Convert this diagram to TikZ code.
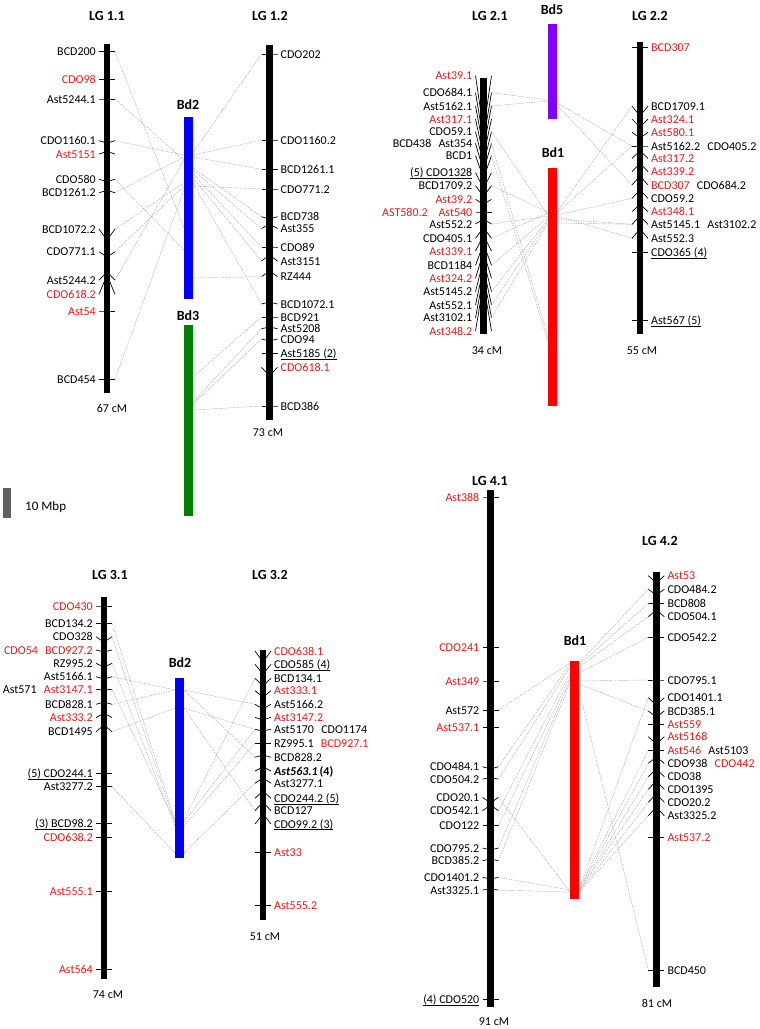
\documentclass[tikz,border=0pt]{standalone}
\usepackage{fontspec}
\setmainfont{Carlito}
\definecolor{mred}{RGB}{228,28,28}
\definecolor{bdblue}{RGB}{0,0,255}
\definecolor{bdgreen}{RGB}{0,128,0}
\definecolor{bdred}{RGB}{255,0,0}
\definecolor{bdpurple}{RGB}{128,0,255}
\definecolor{connc}{RGB}{165,165,165}
\definecolor{scalec}{RGB}{96,96,96}
\newcommand\R[1]{\textcolor{mred}{#1}}
\newcommand\myul[1]{{\setbox0\hbox{#1}\rlap{\rule[-1.7pt]{\wd0}{0.55pt}}\box0}}
\newcommand\gap{\hspace{0.6em}}
\tikzset{
 lbl/.style={inner sep=0pt, font=\fontsize{12}{13}\selectfont},
 ttl/.style={inner sep=0pt, font=\fontsize{14}{16}\selectfont\bfseries},
 tk/.style={line width=0.7pt, black},
 chrom/.style={line width=6.5pt, black},
 conn/.style={draw=connc, line width=0.4pt, dash pattern=on 1.5pt off 1pt},
}
% marker with label on the left, connector side on the right
\newcommand\mkl[5]{\draw[tk] (#2-8,#3) -- (#2,#4) -- (#2+8,#3);
 \coordinate (#1) at (#2+8,#3);
 \node[lbl,anchor=base east] (#1t) at (#2-11,#3+4.2) {#5};}
% marker with label on the right, connector side on the left
\newcommand\mkr[5]{\draw[tk] (#2+8,#3) -- (#2,#4) -- (#2-8,#3);
 \coordinate (#1) at (#2-8,#3);
 \node[lbl,anchor=base west] (#1t) at (#2+11,#3+4.2) {#5};}
\newcommand\link[4]{\coordinate (#2) at (#3,#4); \draw[conn] (#1) -- (#2);}
\begin{document}
\begin{tikzpicture}[x=1pt,y=-1pt]
\useasboundingbox (0,0) rectangle (760,1029);
\fill[white] (0,0) rectangle (760,1029);

% ================= LG 1 =================
\node[ttl] (t11) at (107,16) {LG 1.1};
\node[ttl] (t12) at (270,16) {LG 1.2};
\node[ttl] (tb2) at (188,105) {Bd2};
\node[ttl] (tb3) at (188,316) {Bd3};
\mkl{a1}{107}{51.7}{51.7}{BCD200}
\mkl{a2}{107}{79.3}{79.3}{\R{CDO98}}
\mkl{a3}{107}{99}{99}{Ast5244.1}
\mkl{a4}{107}{140.7}{143}{CDO1160.1}
\mkl{a5}{107}{154}{151.5}{\R{Ast5151}}
\mkl{a6}{107}{179.3}{181.5}{CDO580}
\mkl{a7}{107}{192.7}{190.5}{BCD1261.2}
\mkl{a8}{107}{229}{240}{BCD1072.2}
\mkl{a9}{107}{251.7}{257}{CDO771.1}
\mkl{a10}{107}{280}{272}{Ast5244.2}
\mkl{a11}{107}{294.3}{275}{\R{CDO618.2}}
\mkl{a12}{107}{311}{311}{\R{Ast54}}
\mkl{a13}{107}{379.3}{379.3}{BCD454}
\mkr{b1}{269.5}{54}{54}{CDO202}
\mkr{b2}{269.5}{140}{140}{CDO1160.2}
\mkr{b3}{269.5}{169.3}{169.3}{BCD1261.1}
\mkr{b4}{269.5}{189}{189}{CDO771.2}
\mkr{b5}{269.5}{216.7}{219}{BCD738}
\mkr{b6}{269.5}{228.5}{224}{Ast355}
\mkr{b7}{269.5}{247}{247}{CDO89}
\mkr{b8}{269.5}{261}{255}{Ast3151}
\mkr{b9}{269.5}{276.7}{271}{RZ444}
\mkr{b10}{269.5}{304}{302}{BCD1072.1}
\mkr{b11}{269.5}{317}{317}{BCD921}
\mkr{b12}{269.5}{328.7}{327}{Ast5208}
\mkr{b13}{269.5}{339}{341}{CDO94}
\mkr{b14}{269.5}{353.7}{353.7}{\myul{Ast5185 (2)}}
\mkr{b15}{269.5}{367.3}{376}{\R{CDO618.1}}
\mkr{b16}{269.5}{406}{406}{BCD386}
% connectors LG1
\link{a1}{q1}{184}{228}
\link{a3}{q3}{184}{160}
\link{a4}{q4}{184}{155}
\link{a6}{q6}{184}{250}
\link{a7}{q7}{184}{157}
\link{a8}{q8}{184}{183}
\link{a9}{q9}{184}{186}
\link{a10}{q10}{184}{160}
\link{a13}{q13}{184}{190}
\link{b1}{r1}{193}{153}
\link{b2}{r2}{193}{155}
\link{b3}{r3}{193}{157}
\link{b4}{r4}{193}{186}
\link{b5}{r5}{193}{168}
\link{b6}{r6}{193}{170}
\link{b7}{r7}{193}{174}
\link{b8}{r8}{193}{178}
\link{b9}{r9}{193}{278}
\link{b10}{r10}{193}{183}
\link{b11}{r11}{193}{377}
\link{b12}{r12}{193}{402}
\link{b13}{r13}{193}{404}
\link{b16}{r16}{193}{410}
\draw[chrom] (107,44) -- (107,393);
\draw[chrom] (269.5,45) -- (269.5,420);
\fill[bdblue] (184,117) rectangle (193,299);
\fill[bdgreen] (184,325) rectangle (193,516);
\node[lbl] (cm11) at (112,408) {67 cM};
\node[lbl] (cm12) at (268,433) {73 cM};
% scale bar
\fill[scalec] (3,488) rectangle (11,518);
\node[inner sep=0pt, anchor=west, font=\fontsize{13}{15}\selectfont] (sc) at (25,507) {10 Mbp};

% ================= LG 2 =================
\node[ttl] (t21) at (490,16) {LG 2.1};
\node[ttl] (t22) at (650,16) {LG 2.2};
\node[ttl] (tb5) at (552,10) {Bd5};
\node[ttl] (tb1) at (553,153) {Bd1};
\mkl{c1}{483.5}{75.7}{130.2}{\R{Ast39.1}}
\mkl{c2}{483.5}{92.7}{140.4}{CDO684.1}
\mkl{c3}{483.5}{106}{148.4}{Ast5162.1}
\mkl{c4}{483.5}{119}{156.2}{\R{Ast317.1}}
\mkl{c5}{483.5}{131.7}{163.8}{CDO59.1}
\mkl{c6}{483.5}{143.3}{170.8}{BCD438\gap Ast354}
\mkl{c7}{483.5}{155.7}{178.2}{BCD1}
\mkl{c8}{483.5}{172.7}{188.4}{\myul{(5) CDO1328}}
\mkl{c9}{483.5}{185.7}{196.2}{BCD1709.2}
\mkl{c10}{483.5}{199.3}{204.4}{\R{Ast39.2}}
\mkl{c11}{483.5}{212}{212}{\R{AST580.2}\hspace{0.9em}\R{Ast540}}
\mkl{c12}{483.5}{224}{219.2}{Ast552.2}
\mkl{c13}{483.5}{238.3}{227.8}{CDO405.1}
\mkl{c14}{483.5}{251}{235.4}{\R{Ast339.1}}
\mkl{c15}{483.5}{265.3}{244}{BCD1184}
\mkl{c16}{483.5}{278.3}{251.8}{\R{Ast324.2}}
\mkl{c17}{483.5}{291.7}{259.8}{Ast5145.2}
\mkl{c18}{483.5}{305}{267.8}{Ast552.1}
\mkl{c19}{483.5}{317.7}{275.4}{Ast3102.1}
\mkl{c20}{483.5}{331}{283.4}{\R{Ast348.2}}
\mkr{d1}{640}{47.3}{47.3}{\R{BCD307}}
\mkr{d2}{640}{106}{116}{BCD1709.1}
\mkr{d3}{640}{119}{127}{\R{Ast324.1}}
\mkr{d4}{640}{132.3}{138}{\R{Ast580.1}}
\mkr{d5}{640}{146}{146}{Ast5162.2\gap CDO405.2}
\mkr{d6}{640}{158.3}{151}{\R{Ast317.2}}
\mkr{d7}{640}{171.7}{163}{\R{Ast339.2}}
\mkr{d8}{640}{185}{176}{\R{BCD307}\gap CDO684.2}
\mkr{d9}{640}{198.3}{190}{CDO59.2}
\mkr{d10}{640}{211.7}{204}{\R{Ast348.1}}
\mkr{d11}{640}{224.3}{216}{Ast5145.1\gap Ast3102.2}
\mkr{d12}{640}{238.3}{229}{Ast552.3}
\mkr{d13}{640}{252.3}{252.3}{\myul{CDO365 (4)}}
\mkr{d14}{640}{320.7}{320.7}{\myul{Ast567 (5)}}
% connectors LG2
\link{c2}{s2}{548}{100}
\link{c3}{s3}{548}{101}
\link{c5}{s5}{548}{215}
\link{c6}{s6}{548}{337}
\link{c7}{s7}{548}{342}
\link{c9}{s9}{548}{212}
\link{c12}{s12}{548}{216}
\link{c13}{s13}{548}{213}
\link{c15}{s15}{548}{217}
\link{c17}{s17}{548}{219}
\link{c18}{s18}{548}{221}
\link{c19}{s19}{548}{223}
\link{d2}{t2}{557}{212}
\link{d5}{t5a}{557}{103}
\link{d5}{t5b}{557}{213}
\link{d8}{t8}{557}{105}
\link{d9}{t9}{557}{215}
\link{d11}{t11a}{557}{219}
\link{d11}{t11b}{557}{223}
\link{d12}{t12}{557}{216}
\draw[chrom] (483.5,78) -- (483.5,334);
\draw[chrom] (640,42) -- (640,334);
\fill[bdpurple] (548,24) rectangle (557,119);
\fill[bdred] (548,168) rectangle (557,406);
\node[lbl] (cm21) at (487,351) {34 cM};
\node[lbl] (cm22) at (642,351) {55 cM};

% ================= LG 3 =================
\node[ttl] (t31) at (110,575) {LG 3.1};
\node[ttl] (t32) at (270,575) {LG 3.2};
\node[ttl] (tb23) at (180,663) {Bd2};
\mkl{e1}{104}{606}{606}{\R{CDO430}}
\mkl{e2}{104}{623.3}{623.3}{BCD134.2}
\mkl{e3}{104}{636.7}{642}{CDO328}
\mkl{e4}{104}{650}{652}{\R{CDO54}\gap\R{BCD927.2}}
\mkl{e5}{104}{663.3}{667}{RZ995.2}
\mkl{e6}{104}{676.7}{679}{Ast5166.1}
\mkl{e7}{104}{689.3}{690}{Ast571\gap\R{Ast3147.1}}
\mkl{e8}{104}{704.3}{702}{BCD828.1}
\mkl{e9}{104}{717.7}{713}{\R{Ast333.2}}
\mkl{e10}{104}{731.7}{725}{BCD1495}
\mkl{e11}{104}{773.3}{773.3}{\myul{(5) CDO244.1}}
\mkl{e12}{104}{786.7}{786.7}{Ast3277.2}
\mkl{e13}{104}{823.3}{823.3}{\myul{(3) BCD98.2}}
\mkl{e14}{104}{837.3}{837.3}{\R{CDO638.2}}
\mkl{e15}{104}{891.7}{891.7}{\R{Ast555.1}}
\mkl{e16}{104}{969.3}{969.3}{\R{Ast564}}
\mkr{f1}{263}{651}{662}{\R{CDO638.1}}
\mkr{f2}{263}{664.3}{674}{\myul{CDO585 (4)}}
\mkr{f3}{263}{678.3}{686}{BCD134.1}
\mkr{f4}{263}{690.7}{697}{\R{Ast333.1}}
\mkr{f5}{263}{704.3}{709}{Ast5166.2}
\mkr{f6}{263}{717.3}{720}{\R{Ast3147.2}}
\mkr{f7}{263}{729.3}{731}{Ast5170\gap CDO1174}
\mkr{f8}{263}{743.3}{743.3}{RZ995.1\gap\R{BCD927.1}}
\mkr{f9}{263}{757.3}{755}{BCD828.2}
\mkr{f10}{263}{771}{767}{\textbf{\textit{Ast563.1}}\,\textbf{(4)}}
\mkr{f11}{263}{783.3}{778}{Ast3277.1}
\mkr{f12}{263}{798.3}{791}{\myul{CDO244.2 (5)}}
\mkr{f13}{263}{810.7}{802}{BCD127}
\mkr{f14}{263}{824}{814}{\myul{CDO99.2 (3)}}
\mkr{f15}{263}{852.3}{852.3}{\R{Ast33}}
\mkr{f16}{263}{905}{905}{\R{Ast555.2}}
% connectors LG3
\link{e2}{u2}{175}{820}
\link{e3}{u3}{175}{823}
\link{e5}{u5}{175}{826}
\link{e6}{u6}{175}{690}
\link{e7}{u7}{175}{822}
\link{e8}{u8}{175}{690}
\link{e10}{u10}{175}{708}
\link{e12}{u12}{175}{853}
\link{f3}{v3}{184}{820}
\link{f5}{v5}{184}{690}
\link{f7}{v7a}{184}{708}
\link{f7}{v7b}{184}{822}
\link{f8}{v8}{184}{826}
\link{f9}{v9}{184}{690}
\link{f11}{v11}{184}{853}
\link{f13}{v13}{184}{708}
\draw[chrom] (104,597) -- (104,979);
\draw[chrom] (263,650) -- (263,920);
\fill[bdblue] (175,678) rectangle (184,858);
\node[lbl] (cm31) at (108,995) {74 cM};
\node[lbl] (cm32) at (265,937) {51 cM};

% ================= LG 4 =================
\node[ttl] (t41) at (490,481) {LG 4.1};
\node[ttl] (t42) at (660,541) {LG 4.2};
\node[ttl] (tb14) at (575,641) {Bd1};
\mkl{g1}{490.5}{497}{497}{\R{Ast388}}
\mkl{g2}{490.5}{647.3}{647.3}{\R{CDO241}}
\mkl{g3}{490.5}{681}{681}{\R{Ast349}}
\mkl{g4}{490.5}{710}{710}{Ast572}
\mkl{g5}{490.5}{727.7}{727.7}{\R{Ast537.1}}
\mkl{g6}{490.5}{766.7}{769}{CDO484.1}
\mkl{g7}{490.5}{779}{778}{CDO504.2}
\mkl{g8}{490.5}{797.3}{803}{CDO20.1}
\mkl{g9}{490.5}{810.7}{805}{CDO542.1}
\mkl{g10}{490.5}{825.7}{825.7}{CDO122}
\mkl{g11}{490.5}{848}{850}{CDO795.2}
\mkl{g12}{490.5}{860.7}{859}{BCD385.2}
\mkl{g13}{490.5}{877.3}{879}{CDO1401.2}
\mkl{g14}{490.5}{890}{889}{Ast3325.1}
\mkl{g15}{490.5}{999.3}{999.3}{\myul{(4) CDO520}}
\mkr{h1}{656.3}{575.7}{583}{\R{Ast53}}
\mkr{h2}{656.3}{589.3}{595}{CDO484.2}
\mkr{h3}{656.3}{603.3}{603.3}{BCD808}
\mkr{h4}{656.3}{616.7}{610}{CDO504.1}
\mkr{h5}{656.3}{637.3}{637.3}{CDO542.2}
\mkr{h6}{656.3}{680}{680}{CDO795.1}
\mkr{h7}{656.3}{697.7}{705}{CDO1401.1}
\mkr{h8}{656.3}{711}{717}{BCD385.1}
\mkr{h9}{656.3}{724}{724}{\R{Ast559}}
\mkr{h10}{656.3}{736.7}{744}{\R{Ast5168}}
\mkr{h11}{656.3}{750.7}{750.7}{\R{Ast546}\gap Ast5103}
\mkr{h12}{656.3}{763.3}{757}{CDO938\gap\R{CDO442}}
\mkr{h13}{656.3}{776.7}{769}{CDO38}
\mkr{h14}{656.3}{789.3}{781}{CDO1395}
\mkr{h15}{656.3}{802.3}{794}{CDO20.2}
\mkr{h16}{656.3}{815.7}{807}{Ast3325.2}
\mkr{h17}{656.3}{837.3}{837.3}{\R{Ast537.2}}
\mkr{h18}{656.3}{970}{970}{BCD450}
% connectors LG4
\link{g4}{w4}{570}{663}
\link{g6}{w6}{570}{664}
\link{g7}{w7}{570}{667}
\link{g8}{w8}{570}{892}
\link{g9}{w9}{570}{673}
\link{g10}{w10}{570}{677}
\link{g11}{w11}{570}{680}
\link{g12}{w12}{570}{683}
\link{g13}{w13}{570}{890}
\link{g14}{w14}{570}{892}
\link{h2}{z2}{579}{663}
\link{h3}{z3}{579}{665}
\link{h4}{z4}{579}{667}
\link{h5}{z5}{579}{673}
\link{h6}{z6}{579}{681}
\link{h7}{z7}{579}{890}
\link{h8}{z8}{579}{684}
\link{h11}{z11}{579}{889}
\link{h12}{z12}{579}{890}
\link{h13}{z13}{579}{891}
\link{h14}{z14}{579}{891}
\link{h15}{z15}{579}{892}
\link{h16}{z16}{579}{892}
\link{h18}{z18}{579}{690}
\draw[chrom] (490.5,490) -- (490.5,1007);
\draw[chrom] (656.3,572) -- (656.3,987);
\fill[bdred] (570,661) rectangle (579,899);
\node[lbl] (cm41) at (494,1022) {91 cM};
\node[lbl] (cm42) at (657,1003) {81 cM};
\end{tikzpicture}
\end{document}
